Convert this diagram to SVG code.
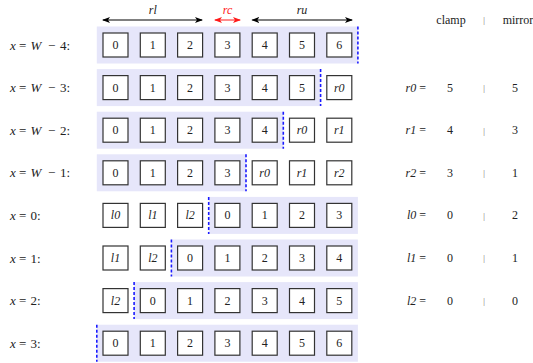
<svg xmlns="http://www.w3.org/2000/svg" width="533" height="363" viewBox="0 0 533 363" font-family="'Liberation Serif', 'Times New Roman', Times, serif">
<style>
text{font-family:'Liberation Serif','Times New Roman',Times,serif;font-size:12px;fill:#222}
.band{fill:#e6e6fa}
.box rect{fill:#fff;stroke:#333;stroke-width:1.2}
.box text{text-anchor:middle}
.it{font-style:italic}
.sep{stroke:#1a1aff;stroke-width:1.6;stroke-dasharray:3,2}
.lbl{text-anchor:start;font-size:13px}
.mid{text-anchor:middle}
.end{text-anchor:end}
.bar{text-anchor:middle;font-size:8px;fill:#555}
.arr{stroke:#000;stroke-width:1;fill:none}
.red{stroke:#ff1a1a}
</style>
<defs>
<marker id="ah" markerWidth="8" markerHeight="6" refX="7" refY="3" orient="auto-start-reverse" markerUnits="userSpaceOnUse"><path d="M0,0 L8,3 L0,6 L2,3 Z" fill="#000"/></marker>
<marker id="ahr" markerWidth="8" markerHeight="6" refX="7" refY="3" orient="auto-start-reverse" markerUnits="userSpaceOnUse"><path d="M0,0 L8,3 L0,6 L2,3 Z" fill="#ff1a1a"/></marker>
</defs>

<g id="connectors">
<line class="arr" x1="103" y1="20" x2="202" y2="20" marker-start="url(#ah)" marker-end="url(#ah)"/>
<line class="arr red" x1="215" y1="20" x2="240" y2="20" marker-start="url(#ahr)" marker-end="url(#ahr)"/>
<line class="arr" x1="252.3" y1="20" x2="352" y2="20" marker-start="url(#ah)" marker-end="url(#ah)"/>
</g>
<g id="range-labels">
<text class="mid it" x="152.8" y="14">rl</text>
<text class="mid it" x="227.5" y="14" style="fill:#ff1a1a">rc</text>
<text class="mid it" x="302" y="14">ru</text>
</g>

<g id="bands">
<rect class="band" x="96.8" y="26.5" width="261.1" height="37"/>
<rect class="band" x="96.8" y="69.1" width="223.8" height="37"/>
<rect class="band" x="96.8" y="111.7" width="186.5" height="37"/>
<rect class="band" x="96.8" y="154.3" width="149.2" height="37"/>
<rect class="band" x="208.7" y="196.9" width="149.2" height="37"/>
<rect class="band" x="171.4" y="239.5" width="186.5" height="37"/>
<rect class="band" x="134.1" y="282.1" width="223.8" height="37"/>
<rect class="band" x="96.8" y="324.7" width="261.1" height="37"/>
</g>
<g id="separators">
<line class="sep" x1="357.9" y1="26.5" x2="357.9" y2="63.5"/>
<line class="sep" x1="320.6" y1="69.1" x2="320.6" y2="106.1"/>
<line class="sep" x1="283.3" y1="111.7" x2="283.3" y2="148.7"/>
<line class="sep" x1="246" y1="154.3" x2="246" y2="191.3"/>
<line class="sep" x1="208.7" y1="196.9" x2="208.7" y2="233.9"/>
<line class="sep" x1="171.4" y1="239.5" x2="171.4" y2="276.5"/>
<line class="sep" x1="134.1" y1="282.1" x2="134.1" y2="319.1"/>
<line class="sep" x1="96.8" y1="324.7" x2="96.8" y2="361.7"/>
</g>

<g id="row-labels">
<text class="lbl" y="49.5"><tspan class="it" x="10">x</tspan><tspan x="19">=</tspan><tspan class="it" x="30.5">W</tspan><tspan x="48">−</tspan><tspan x="60">4:</tspan></text>
<text class="lbl" y="92.1"><tspan class="it" x="10">x</tspan><tspan x="19">=</tspan><tspan class="it" x="30.5">W</tspan><tspan x="48">−</tspan><tspan x="60">3:</tspan></text>
<text class="lbl" y="134.7"><tspan class="it" x="10">x</tspan><tspan x="19">=</tspan><tspan class="it" x="30.5">W</tspan><tspan x="48">−</tspan><tspan x="60">2:</tspan></text>
<text class="lbl" y="177.3"><tspan class="it" x="10">x</tspan><tspan x="19">=</tspan><tspan class="it" x="30.5">W</tspan><tspan x="48">−</tspan><tspan x="60">1:</tspan></text>
<text class="lbl" y="219.9"><tspan class="it" x="10">x</tspan><tspan x="19">=</tspan><tspan x="30.5">0:</tspan></text>
<text class="lbl" y="262.5"><tspan class="it" x="10">x</tspan><tspan x="19">=</tspan><tspan x="30.5">1:</tspan></text>
<text class="lbl" y="305.1"><tspan class="it" x="10">x</tspan><tspan x="19">=</tspan><tspan x="30.5">2:</tspan></text>
<text class="lbl" y="347.7"><tspan class="it" x="10">x</tspan><tspan x="19">=</tspan><tspan x="30.5">3:</tspan></text>
</g>

<g id="r1c0" class="box"><rect x="103" y="33" width="25" height="24"/><text x="115.5" y="49">0</text></g>
<g id="r1c1" class="box"><rect x="140.3" y="33" width="25" height="24"/><text x="152.8" y="49">1</text></g>
<g id="r1c2" class="box"><rect x="177.6" y="33" width="25" height="24"/><text x="190.1" y="49">2</text></g>
<g id="r1c3" class="box"><rect x="214.9" y="33" width="25" height="24"/><text x="227.4" y="49">3</text></g>
<g id="r1c4" class="box"><rect x="252.2" y="33" width="25" height="24"/><text x="264.7" y="49">4</text></g>
<g id="r1c5" class="box"><rect x="289.5" y="33" width="25" height="24"/><text x="302" y="49">5</text></g>
<g id="r1c6" class="box"><rect x="326.8" y="33" width="25" height="24"/><text x="339.3" y="49">6</text></g>
<g id="r2c0" class="box"><rect x="103" y="75.6" width="25" height="24"/><text x="115.5" y="91.6">0</text></g>
<g id="r2c1" class="box"><rect x="140.3" y="75.6" width="25" height="24"/><text x="152.8" y="91.6">1</text></g>
<g id="r2c2" class="box"><rect x="177.6" y="75.6" width="25" height="24"/><text x="190.1" y="91.6">2</text></g>
<g id="r2c3" class="box"><rect x="214.9" y="75.6" width="25" height="24"/><text x="227.4" y="91.6">3</text></g>
<g id="r2c4" class="box"><rect x="252.2" y="75.6" width="25" height="24"/><text x="264.7" y="91.6">4</text></g>
<g id="r2c5" class="box"><rect x="289.5" y="75.6" width="25" height="24"/><text x="302" y="91.6">5</text></g>
<g id="r2c6" class="box"><rect x="326.8" y="75.6" width="25" height="24"/><text class="it" x="339.3" y="91.6">r0</text></g>
<g id="r3c0" class="box"><rect x="103" y="118.2" width="25" height="24"/><text x="115.5" y="134.2">0</text></g>
<g id="r3c1" class="box"><rect x="140.3" y="118.2" width="25" height="24"/><text x="152.8" y="134.2">1</text></g>
<g id="r3c2" class="box"><rect x="177.6" y="118.2" width="25" height="24"/><text x="190.1" y="134.2">2</text></g>
<g id="r3c3" class="box"><rect x="214.9" y="118.2" width="25" height="24"/><text x="227.4" y="134.2">3</text></g>
<g id="r3c4" class="box"><rect x="252.2" y="118.2" width="25" height="24"/><text x="264.7" y="134.2">4</text></g>
<g id="r3c5" class="box"><rect x="289.5" y="118.2" width="25" height="24"/><text class="it" x="302" y="134.2">r0</text></g>
<g id="r3c6" class="box"><rect x="326.8" y="118.2" width="25" height="24"/><text class="it" x="339.3" y="134.2">r1</text></g>
<g id="r4c0" class="box"><rect x="103" y="160.8" width="25" height="24"/><text x="115.5" y="176.8">0</text></g>
<g id="r4c1" class="box"><rect x="140.3" y="160.8" width="25" height="24"/><text x="152.8" y="176.8">1</text></g>
<g id="r4c2" class="box"><rect x="177.6" y="160.8" width="25" height="24"/><text x="190.1" y="176.8">2</text></g>
<g id="r4c3" class="box"><rect x="214.9" y="160.8" width="25" height="24"/><text x="227.4" y="176.8">3</text></g>
<g id="r4c4" class="box"><rect x="252.2" y="160.8" width="25" height="24"/><text class="it" x="264.7" y="176.8">r0</text></g>
<g id="r4c5" class="box"><rect x="289.5" y="160.8" width="25" height="24"/><text class="it" x="302" y="176.8">r1</text></g>
<g id="r4c6" class="box"><rect x="326.8" y="160.8" width="25" height="24"/><text class="it" x="339.3" y="176.8">r2</text></g>
<g id="r5c0" class="box"><rect x="103" y="203.4" width="25" height="24"/><text class="it" x="115.5" y="219.4">l0</text></g>
<g id="r5c1" class="box"><rect x="140.3" y="203.4" width="25" height="24"/><text class="it" x="152.8" y="219.4">l1</text></g>
<g id="r5c2" class="box"><rect x="177.6" y="203.4" width="25" height="24"/><text class="it" x="190.1" y="219.4">l2</text></g>
<g id="r5c3" class="box"><rect x="214.9" y="203.4" width="25" height="24"/><text x="227.4" y="219.4">0</text></g>
<g id="r5c4" class="box"><rect x="252.2" y="203.4" width="25" height="24"/><text x="264.7" y="219.4">1</text></g>
<g id="r5c5" class="box"><rect x="289.5" y="203.4" width="25" height="24"/><text x="302" y="219.4">2</text></g>
<g id="r5c6" class="box"><rect x="326.8" y="203.4" width="25" height="24"/><text x="339.3" y="219.4">3</text></g>
<g id="r6c0" class="box"><rect x="103" y="246" width="25" height="24"/><text class="it" x="115.5" y="262">l1</text></g>
<g id="r6c1" class="box"><rect x="140.3" y="246" width="25" height="24"/><text class="it" x="152.8" y="262">l2</text></g>
<g id="r6c2" class="box"><rect x="177.6" y="246" width="25" height="24"/><text x="190.1" y="262">0</text></g>
<g id="r6c3" class="box"><rect x="214.9" y="246" width="25" height="24"/><text x="227.4" y="262">1</text></g>
<g id="r6c4" class="box"><rect x="252.2" y="246" width="25" height="24"/><text x="264.7" y="262">2</text></g>
<g id="r6c5" class="box"><rect x="289.5" y="246" width="25" height="24"/><text x="302" y="262">3</text></g>
<g id="r6c6" class="box"><rect x="326.8" y="246" width="25" height="24"/><text x="339.3" y="262">4</text></g>
<g id="r7c0" class="box"><rect x="103" y="288.6" width="25" height="24"/><text class="it" x="115.5" y="304.6">l2</text></g>
<g id="r7c1" class="box"><rect x="140.3" y="288.6" width="25" height="24"/><text x="152.8" y="304.6">0</text></g>
<g id="r7c2" class="box"><rect x="177.6" y="288.6" width="25" height="24"/><text x="190.1" y="304.6">1</text></g>
<g id="r7c3" class="box"><rect x="214.9" y="288.6" width="25" height="24"/><text x="227.4" y="304.6">2</text></g>
<g id="r7c4" class="box"><rect x="252.2" y="288.6" width="25" height="24"/><text x="264.7" y="304.6">3</text></g>
<g id="r7c5" class="box"><rect x="289.5" y="288.6" width="25" height="24"/><text x="302" y="304.6">4</text></g>
<g id="r7c6" class="box"><rect x="326.8" y="288.6" width="25" height="24"/><text x="339.3" y="304.6">5</text></g>
<g id="r8c0" class="box"><rect x="103" y="331.2" width="25" height="24"/><text x="115.5" y="347.2">0</text></g>
<g id="r8c1" class="box"><rect x="140.3" y="331.2" width="25" height="24"/><text x="152.8" y="347.2">1</text></g>
<g id="r8c2" class="box"><rect x="177.6" y="331.2" width="25" height="24"/><text x="190.1" y="347.2">2</text></g>
<g id="r8c3" class="box"><rect x="214.9" y="331.2" width="25" height="24"/><text x="227.4" y="347.2">3</text></g>
<g id="r8c4" class="box"><rect x="252.2" y="331.2" width="25" height="24"/><text x="264.7" y="347.2">4</text></g>
<g id="r8c5" class="box"><rect x="289.5" y="331.2" width="25" height="24"/><text x="302" y="347.2">5</text></g>
<g id="r8c6" class="box"><rect x="326.8" y="331.2" width="25" height="24"/><text x="339.3" y="347.2">6</text></g>

<g id="table">
<text class="mid" x="451" y="24">clamp</text>
<text class="bar" x="484" y="23">|</text>
<text class="mid" x="518" y="24">mirror</text>
<text class="end" x="426" y="91.6"><tspan class="it">r0</tspan> =</text>
<text class="mid" x="450" y="91.6">5</text><text class="bar" x="484" y="91">|</text><text class="mid" x="515" y="91.6">5</text>
<text class="end" x="426" y="134.2"><tspan class="it">r1</tspan> =</text>
<text class="mid" x="450" y="134.2">4</text><text class="bar" x="484" y="133.6">|</text><text class="mid" x="515" y="134.2">3</text>
<text class="end" x="426" y="176.8"><tspan class="it">r2</tspan> =</text>
<text class="mid" x="450" y="176.8">3</text><text class="bar" x="484" y="176.2">|</text><text class="mid" x="515" y="176.8">1</text>
<text class="end" x="426" y="219.4"><tspan class="it">l0</tspan> =</text>
<text class="mid" x="450" y="219.4">0</text><text class="bar" x="484" y="218.8">|</text><text class="mid" x="515" y="219.4">2</text>
<text class="end" x="426" y="262"><tspan class="it">l1</tspan> =</text>
<text class="mid" x="450" y="262">0</text><text class="bar" x="484" y="261.4">|</text><text class="mid" x="515" y="262">1</text>
<text class="end" x="426" y="304.6"><tspan class="it">l2</tspan> =</text>
<text class="mid" x="450" y="304.6">0</text><text class="bar" x="484" y="304">|</text><text class="mid" x="515" y="304.6">0</text>
</g>
</svg>
